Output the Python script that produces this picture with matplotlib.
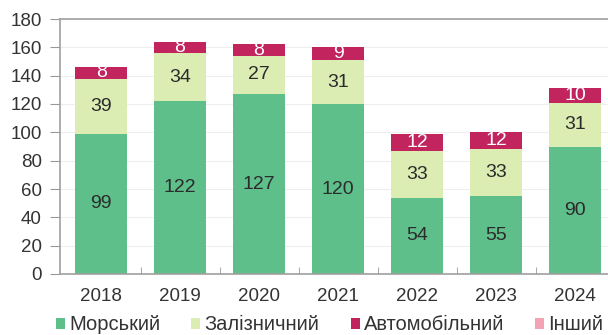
import numpy as np
import matplotlib.pyplot as plt

years = ['2018', '2019', '2020', '2021', '2022', '2023', '2024']
sea = [99, 122, 127, 120, 54, 55, 90]
rail = [39, 34, 27, 31, 33, 33, 31]
road = [8, 8, 8, 9, 12, 12, 10]
other = [0, 0, 0, 0, 0, 0, 0]

series = [
    ('Морський', sea, '#5fbf8b', '#2b2b2b'),
    ('Залізничний', rail, '#dcedb4', '#2b2b2b'),
    ('Автомобільний', road, '#c2245d', 'white'),
    ('Інший', other, '#f4a3b4', 'white'),
]

plt.rcParams['font.family'] = ['Liberation Sans', 'DejaVu Sans']

fig = plt.figure(figsize=(6.08, 3.35), dpi=100)
ax = fig.add_axes([60 / 608, 61 / 335, 0.912, 255 / 335])

x = np.arange(len(years))
bottom = np.zeros(len(years))
handles = []
for name, vals, color, tcolor in series:
    vals = np.array(vals, dtype=float)
    bars = ax.bar(x, vals, width=0.66, bottom=bottom, color=color, label=name, zorder=2)
    handles.append(bars)
    for xi, b, v in zip(x, bottom, vals):
        if v > 0:
            ax.text(xi, b + v / 2, f'{int(v)}', ha='center', va='center',
                    fontsize=14, color=tcolor, zorder=3)
    bottom += vals

ax.set_xlim(-0.52, 6.5)
ax.set_ylim(0, 180)
ax.set_yticks(range(0, 181, 20))
ax.set_xticks(x)
ax.set_xticklabels(years)
ax.set_xticks(x[:-1] + 0.5, minor=True)
ax.tick_params(axis='x', which='major', length=0, pad=10, labelsize=13.5, labelcolor='#333333')
ax.tick_params(axis='x', which='minor', direction='in', length=5, color='#999999')
ax.tick_params(axis='y', length=7, color='#999999', pad=6, labelsize=13.5, labelcolor='#333333')
ax.grid(axis='y', color='#eeeeee', linewidth=0.8, zorder=0)
for sp in ax.spines.values():
    sp.set_color('#a0a0a0')
    sp.set_linewidth(1.2)

fig.legend(handles=handles, loc='center left', bbox_to_anchor=(56 / 608, 10 / 335),
           ncol=4, frameon=False, fontsize=14.5, handlelength=0.45, handleheight=0.45,
           handletextpad=0.2, columnspacing=1.55, borderaxespad=0, borderpad=0,
           labelcolor='#333333')

fig.savefig('out.png', dpi=100)
